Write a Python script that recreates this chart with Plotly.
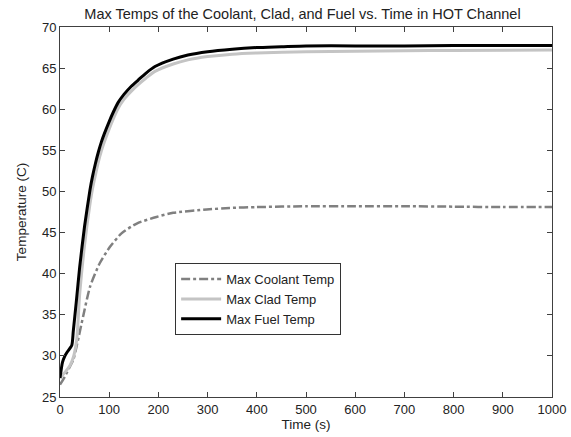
import plotly.graph_objects as go

# Time axis samples (s) and max temperatures (C) for each material in the hot channel
t_coolant = [0, 10, 20, 27, 35, 47, 61, 81, 102, 125, 156, 196, 230, 298, 345, 400, 500, 600, 700, 800, 900, 1000]
coolant = [26.5, 27.5, 28.7, 29.5, 31.5, 34.8, 38.4, 41.3, 43.3, 44.9, 46.1, 46.9, 47.4, 47.8, 48.0, 48.1, 48.2, 48.2, 48.2, 48.15, 48.1, 48.1]

t_clad = [0, 10, 20, 27, 34, 40, 50, 61, 66, 72, 78, 84, 90, 100, 108, 118, 130, 145, 159, 175, 193, 230, 260, 300, 350, 400, 500, 600, 700, 800, 1000]
clad = [27.3, 28.0, 28.8, 29.8, 32.0, 37.5, 43.5, 48.5, 50.3, 52.0, 53.6, 54.9, 56.0, 57.6, 58.8, 60.1, 61.2, 62.2, 63.0, 63.8, 64.6, 65.5, 66.0, 66.4, 66.7, 66.85, 67.0, 67.05, 67.1, 67.15, 67.2]

t_fuel = [0, 5, 10, 15, 24, 27, 33, 40, 50, 61, 66, 72, 78, 84, 90, 100, 108, 118, 130, 145, 159, 175, 193, 230, 260, 300, 350, 400, 450, 500, 600, 700, 800, 900, 1000]
fuel = [27.3, 29.2, 30.0, 30.5, 31.3, 33.0, 36.5, 40.8, 45.8, 50.2, 51.8, 53.4, 54.8, 56.0, 57.0, 58.5, 59.6, 60.8, 61.8, 62.8, 63.55, 64.4, 65.2, 66.1, 66.6, 67.0, 67.3, 67.5, 67.6, 67.7, 67.7, 67.7, 67.75, 67.75, 67.75]

x_ticks = list(range(0, 1001, 100))
y_ticks = list(range(25, 71, 5))

font_family = "Liberation Sans, Arial, sans-serif"
text_color = "#222"

fig = go.Figure()
fig.add_trace(go.Scatter(x=t_coolant, y=coolant, mode="lines", name="Max Coolant Temp",
                         line=dict(color="#808080", width=2.5, dash="dashdot",
                                   shape="spline", smoothing=0.6)))
fig.add_trace(go.Scatter(x=t_clad, y=clad, mode="lines", name="Max Clad Temp",
                         line=dict(color="#c4c4c4", width=3, shape="spline", smoothing=0.6)))
fig.add_trace(go.Scatter(x=t_fuel, y=fuel, mode="lines", name="Max Fuel Temp",
                         line=dict(color="#000000", width=3, shape="spline", smoothing=0.6)))

axis_common = dict(showline=True, linecolor="#404040", linewidth=1, mirror="ticks",
                   ticks="inside", ticklen=5, tickcolor="#404040", showgrid=False,
                   zeroline=False, automargin=False,
                   tickfont=dict(family=font_family, size=13, color=text_color))

fig.update_layout(
    width=571, height=437,
    margin=dict(l=60, r=19, t=27, b=40, autoexpand=False),
    paper_bgcolor="white", plot_bgcolor="white",
    title=dict(text="Max Temps of the Coolant, Clad, and Fuel vs. Time in HOT Channel",
               x=(83 + 522) / 2 / 571, xanchor="center", y=0.98, yanchor="top",
               font=dict(family=font_family, size=14.5, color=text_color)),
    xaxis=dict(range=[0, 1000], tickvals=x_ticks, **axis_common,
               title=dict(text="Time (s)", standoff=2,
                          font=dict(family=font_family, size=13.5, color=text_color))),
    yaxis=dict(range=[25, 70], tickvals=y_ticks, **axis_common,
               title=dict(text="Temperature (C)", standoff=12,
                          font=dict(family=font_family, size=13.5, color=text_color))),
    legend=dict(x=0.234, y=0.362, xanchor="left", yanchor="top",
                bordercolor="#333", borderwidth=1, bgcolor="white",
                font=dict(family=font_family, size=13, color=text_color),
                tracegroupgap=0, itemwidth=40),
    showlegend=True,
)

fig.write_html("out.html")
